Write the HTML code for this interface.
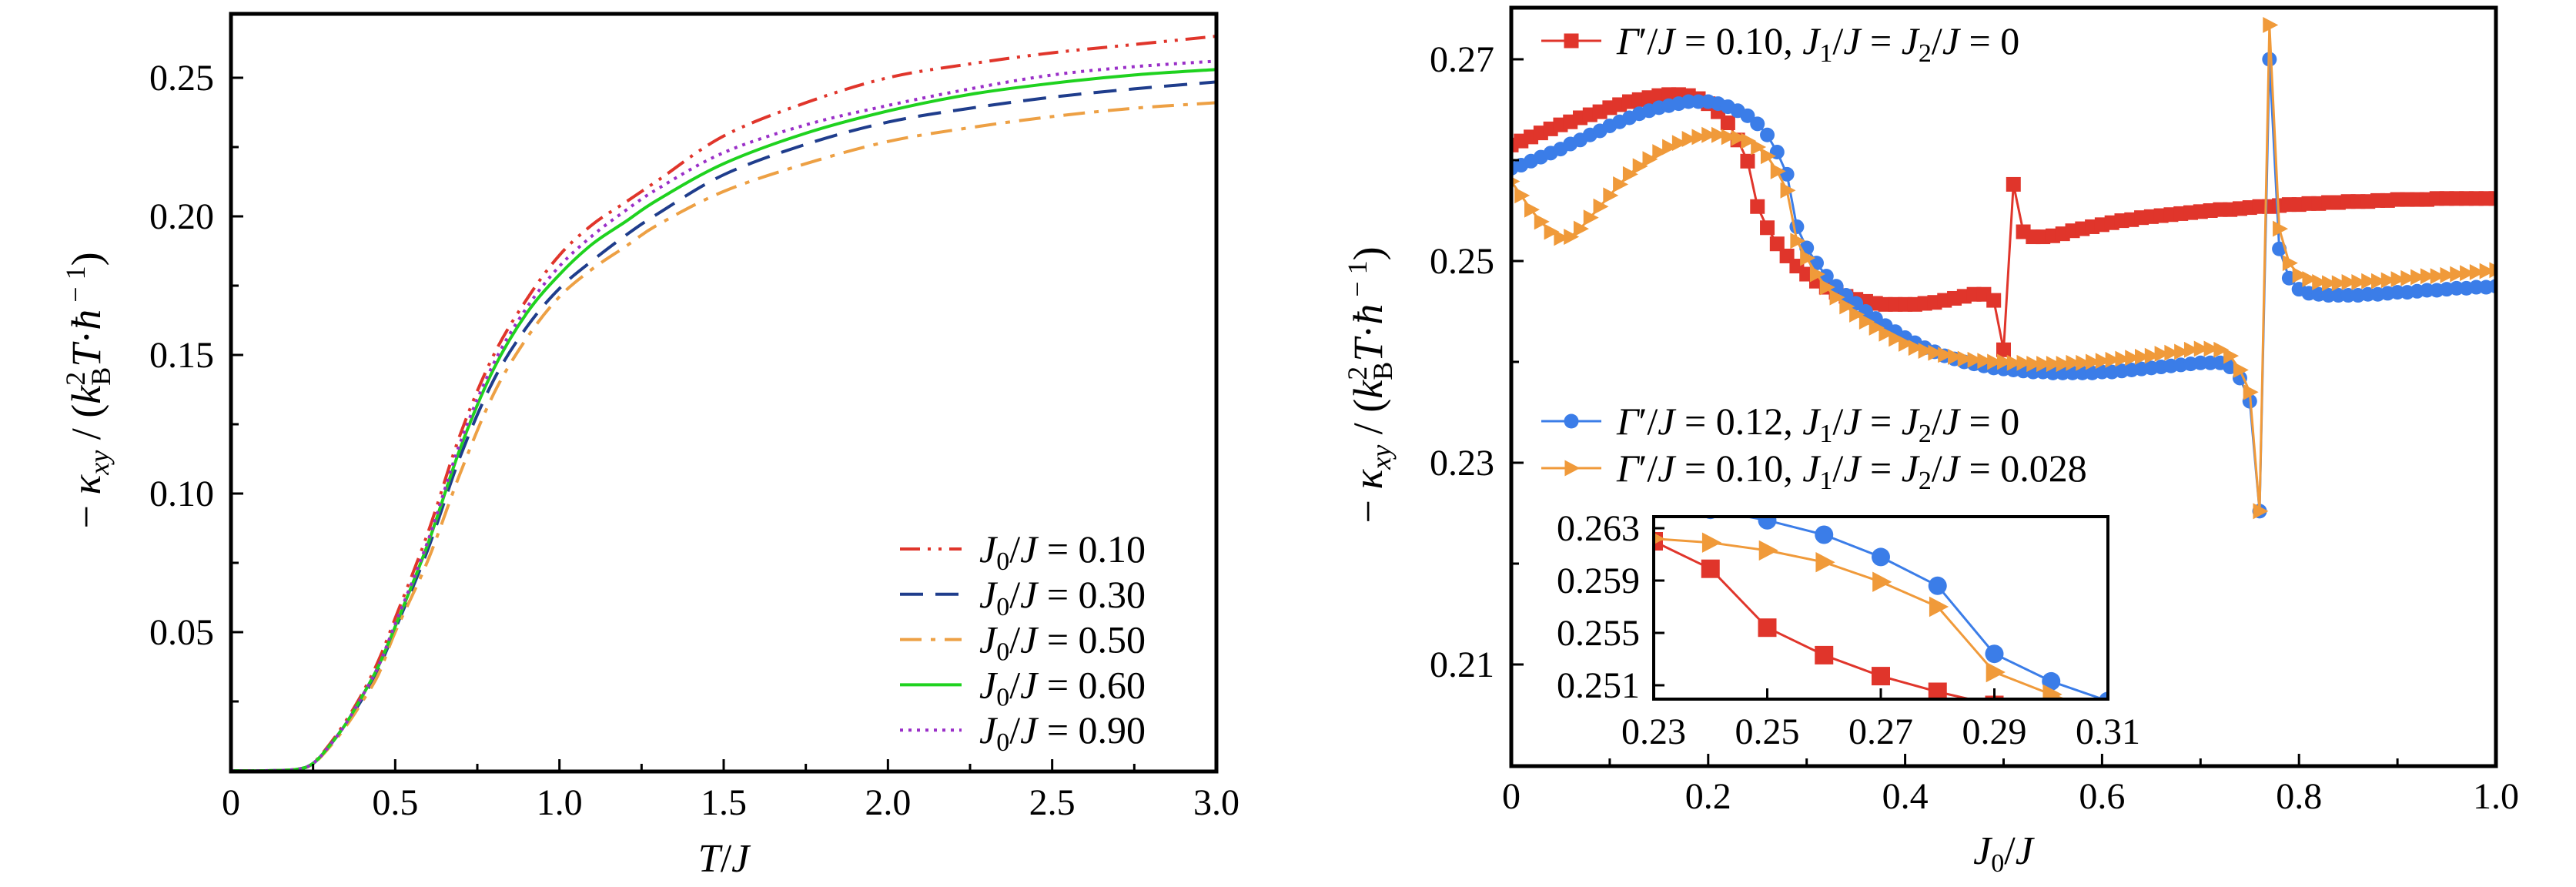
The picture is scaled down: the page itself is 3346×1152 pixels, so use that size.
<!DOCTYPE html>
<html><head><meta charset="utf-8">
<style>
html,body{margin:0;padding:0;background:#fff;overflow:hidden;width:3346px;height:1152px;}
svg{display:block;}
text{font-family:"Liberation Serif","DejaVu Serif",serif;}
</style></head>
<body>
<svg id="fig" width="3346" height="1152" viewBox="0 0 3346 1152" xmlns="http://www.w3.org/2000/svg" font-family="Liberation Serif, DejaVu Serif, serif">
<defs>
<clipPath id="clipL"><rect x="300" y="18" width="1280" height="984"/></clipPath>
<clipPath id="clipR"><rect x="1963" y="10" width="1279" height="985"/></clipPath>
<clipPath id="clipI"><rect x="2148" y="671" width="590" height="237"/></clipPath>
</defs>
<g id="left"></g>
<g id="right"></g>
</svg>
<script>
// ---------- LEFT CHART DATA ----------
const tGrid = [0,0.1,0.2,0.25,0.3,0.35,0.4,0.45,0.5,0.6,0.7,0.8,0.9,1.0,1.1,1.2,1.3,1.5,1.75,2.0,2.25,2.5,2.75,3.0];
const kRed = [0,0,0.0005,0.0028,0.0095,0.018,0.028,0.040,0.055,0.086,0.122,0.150,0.170,0.186,0.197,0.205,0.213,0.229,0.241,0.250,0.255,0.259,0.262,0.265];
const kBlue = [0,0,0.0005,0.0026,0.009,0.017,0.026,0.037,0.051,0.080,0.114,0.141,0.160,0.174,0.184,0.193,0.201,0.215,0.226,0.234,0.239,0.243,0.246,0.2485];
const kOrange = [0,0,0.0005,0.0025,0.0085,0.016,0.025,0.035,0.050,0.076,0.108,0.136,0.156,0.171,0.181,0.189,0.197,0.209,0.219,0.227,0.232,0.236,0.239,0.241];
const kGreen = [0,0,0.0005,0.0027,0.009,0.017,0.027,0.038,0.052,0.082,0.117,0.145,0.165,0.179,0.190,0.198,0.206,0.219,0.230,0.238,0.244,0.248,0.251,0.253];
const kPurple = [0,0,0.0005,0.0027,0.009,0.017,0.027,0.038,0.053,0.083,0.119,0.147,0.167,0.182,0.193,0.202,0.210,0.223,0.233,0.240,0.246,0.251,0.254,0.256];
const leftLabels = ["0.10","0.30","0.50","0.60","0.90"];
const leftXTicks = ["0","0.5","1.0","1.5","2.0","2.5","3.0"];
const leftYTicks = ["0.05","0.10","0.15","0.20","0.25"];

// ---------- RIGHT CHART DATA ----------
const rRed = [0.2615,0.2619,0.2623,0.2627,0.2631,0.2635,0.2638,0.2642,0.2645,0.2648,
0.2652,0.2655,0.2658,0.2660,0.2662,0.2664,0.2665,0.2665,0.2664,0.2661,
0.2656,0.2648,0.2637,0.2620,0.2599,0.2554,0.2533,0.2517,0.2505,0.2495,
0.2487,0.2480,0.2474,0.2469,0.2465,0.2462,0.2460,0.2458,0.2457,0.2457,
0.2457,0.2457,0.2458,0.2459,0.2461,0.2463,0.2465,0.2467,0.2467,0.2461,
0.2412,0.2576,0.2529,0.2524,0.2524,0.2525,0.2527,0.2530,0.2532,0.2534,
0.2536,0.2538,0.2540,0.2541,0.2543,0.2544,0.2545,0.2546,0.2547,0.2548,
0.2549,0.2550,0.2551,0.2551,0.2552,0.2553,0.2554,0.2554,0.2555,0.2556,
0.2556,0.2557,0.2557,0.2558,0.2558,0.2559,0.2559,0.2559,0.2560,0.2560,
0.2561,0.2561,0.2561,0.2561,0.2562,0.2562,0.2562,0.2562,0.2562,0.2562,0.2562];
const rBlue = [0.2592,0.2595,0.2599,0.2603,0.2607,0.2611,0.2616,0.2620,0.2625,0.2629,
0.2634,0.2638,0.2642,0.2646,0.2649,0.2652,0.2654,0.2656,0.2658,0.2658,
0.2658,0.2656,0.2653,0.2649,0.2644,0.2636,0.2625,0.2608,0.2586,0.2534,
0.2513,0.2498,0.2485,0.2475,0.2466,0.2458,0.2450,0.2443,0.2436,0.2430,
0.2424,0.2419,0.2414,0.2410,0.2406,0.2403,0.2400,0.2398,0.2396,0.2394,
0.2393,0.2392,0.2391,0.2390,0.2390,0.2389,0.2389,0.2389,0.2389,0.2389,
0.2390,0.2390,0.2391,0.2392,0.2393,0.2394,0.2395,0.2396,0.2397,0.2398,
0.2399,0.2399,0.2399,0.2395,0.2384,0.2361,0.2252,0.2700,0.2512,0.2483,
0.2472,0.2468,0.2467,0.2466,0.2466,0.2466,0.2466,0.2467,0.2467,0.2468,
0.2469,0.2469,0.2470,0.2471,0.2471,0.2472,0.2473,0.2473,0.2474,0.2474,0.2475];
const rOrange = [0.2579,0.2565,0.2551,0.2539,0.2529,0.2523,0.2524,0.2532,0.2543,0.2554,
0.2565,0.2576,0.2586,0.2594,0.2601,0.2608,0.2613,0.2617,0.2621,0.2623,
0.2625,0.2625,0.2623,0.2622,0.2619,0.2613,0.2604,0.2589,0.2570,0.2520,
0.2503,0.2487,0.2474,0.2464,0.2455,0.2447,0.2440,0.2434,0.2428,0.2423,
0.2418,0.2414,0.2411,0.2409,0.2407,0.2405,0.2403,0.2402,0.2401,0.2400,
0.2400,0.2399,0.2399,0.2398,0.2398,0.2398,0.2398,0.2399,0.2399,0.2400,
0.2401,0.2402,0.2403,0.2404,0.2405,0.2406,0.2408,0.2409,0.2410,0.2412,
0.2413,0.2413,0.2412,0.2406,0.2392,0.2370,0.2252,0.2734,0.2532,0.2498,
0.2486,0.2482,0.2479,0.2478,0.2478,0.2479,0.2479,0.2480,0.2480,0.2481,
0.2482,0.2483,0.2484,0.2485,0.2485,0.2486,0.2487,0.2488,0.2489,0.2490,0.2491];
const rightXTicks = ["0","0.2","0.4","0.6","0.8","1.0"];
const rightYTicks = ["0.21","0.23","0.25","0.27"];
const insetXTicks = ["0.23","0.25","0.27","0.29","0.31"];
const insetYTicks = ["0.251","0.255","0.259","0.263"];

const NS = "http://www.w3.org/2000/svg";
const FF = "Liberation Serif, DejaVu Serif, serif";
function mk(parent, tag, attrs) {
  const e = document.createElementNS(NS, tag);
  for (const k in attrs) e.setAttribute(k, attrs[k]);
  if (tag === "text") e.setAttribute("font-family", FF);
  parent.appendChild(e);
  return e;
}
const C = {red:"#e0352b", blue:"#1f3d8c", orange:"#eda044", green:"#1fd21f", purple:"#9a2fc8",
           rred:"#e0352b", rblue:"#3b7de8", rorange:"#f09a3a"};

// ---------- LEFT CHART ----------
const L = document.getElementById("left");
const lx = t => 300 + t * (1280 / 3);
const ly = v => 1001 - v * 3600;

function smoothPath(xs, ys) {
  const p = xs.map((x, i) => [x, ys[i]]);
  let d = "M" + p[0][0].toFixed(1) + "," + p[0][1].toFixed(1);
  for (let i = 0; i < p.length - 1; i++) {
    const p0 = p[Math.max(0, i - 1)], p1 = p[i], p2 = p[i + 1], p3 = p[Math.min(p.length - 1, i + 2)];
    const c1 = [p1[0] + (p2[0] - p0[0]) / 6, p1[1] + (p2[1] - p0[1]) / 6];
    const c2 = [p2[0] - (p3[0] - p1[0]) / 6, p2[1] - (p3[1] - p1[1]) / 6];
    d += "C" + c1[0].toFixed(1) + "," + c1[1].toFixed(1) + " " + c2[0].toFixed(1) + "," + c2[1].toFixed(1) + " " + p2[0].toFixed(1) + "," + p2[1].toFixed(1);
  }
  return d;
}
const leftSeries = [
  {vals:kRed, col:C.red, dash:"26,10,4,10,4,10"},
  {vals:kBlue, col:C.blue, dash:"30,16"},
  {vals:kOrange, col:C.orange, dash:"28,12,6,12"},
  {vals:kGreen, col:C.green, dash:""},
  {vals:kPurple, col:C.purple, dash:"4,7"}
];
const lg = mk(L, "g", {"clip-path":"url(#clipL)"});
leftSeries.forEach((s, i) => {
  const pth = mk(lg, "path", {d:smoothPath(tGrid.map(lx), s.vals.map(ly)), fill:"none", stroke:s.col, "stroke-width":4, "stroke-dasharray":s.dash});
  
  
});
const lf = mk(L, "rect", {x:300, y:18, width:1280, height:984, fill:"none", stroke:"#000", "stroke-width":5});


for (let i = 0; i <= 12; i++) {
  const t = i * 0.25, x = lx(t), major = i % 2 === 0;
  const tk = mk(L, "line", {x1:x, x2:x, y1:1002, y2:1002 - (major ? 16 : 10), stroke:"#000", "stroke-width":3});
  
  
}
leftXTicks.forEach((lab, i) => {
  const tx = mk(L, "text", {x:lx(i * 0.5), y:1058, "font-size":48, "text-anchor":"middle"});
  tx.textContent = lab;
  
  
});
for (let i = 1; i <= 10; i++) {
  const v = i * 0.025, y = ly(v), major = i % 2 === 0;
  const tk = mk(L, "line", {x1:300, x2:300 + (major ? 16 : 10), y1:y, y2:y, stroke:"#000", "stroke-width":3});
  
  
}
leftYTicks.forEach((lab, i) => {
  const tx = mk(L, "text", {x:278, y:ly((i + 1) * 0.05) + 16, "font-size":48, "text-anchor":"end"});
  tx.textContent = lab;
  
  
});
leftLabels.forEach((lab, i) => {
  const y = 713 + i * 58.8, s = leftSeries[i];
  const ln = mk(L, "line", {x1:1169, x2:1249, y1:y, y2:y, stroke:s.col, "stroke-width":4, "stroke-dasharray":s.dash});
  
  
  const tx = mk(L, "text", {x:1272, y:y + 17, "font-size":50});
  tx.innerHTML = '<tspan font-style="italic">J</tspan><tspan font-size="34" dy="10">0</tspan><tspan dy="-10">/</tspan><tspan font-style="italic">J</tspan> = ' + lab;
  
  
});
const lxt = mk(L, "text", {x:940, y:1132, "font-size":52, "text-anchor":"middle"});
lxt.innerHTML = '<tspan font-style="italic">T</tspan>/<tspan font-style="italic">J</tspan>';


function yTitle(parent, cx, cy, name) {
  const t = mk(parent, "text", {x:0, y:0, "font-size":54, "text-anchor":"middle", transform:"translate(" + cx + "," + cy + ") rotate(-90)"});
  t.innerHTML = '− <tspan font-style="italic">κ</tspan><tspan font-size="36" font-style="italic" dy="11">xy</tspan><tspan dy="-11"> / (</tspan><tspan font-style="italic">k</tspan><tspan font-size="36" dy="-20">2</tspan><tspan font-size="36" dx="-18" dy="33">B</tspan><tspan dy="-13" font-style="italic">T</tspan>·<tspan font-style="italic">ħ</tspan><tspan font-size="36" dy="-20"> − 1</tspan><tspan dy="20">)</tspan>';
  
  
}
yTitle(L, 130, 507, 'y-axis-title');

// ---------- RIGHT CHART ----------
const R = document.getElementById("right");
const rx = v => 1963 + v * 1279;
const ry = v => 863 - (v - 0.21) * 13100;
const jGrid = rRed.map((_, i) => i / 100);
const rightSeries = [
  {vals:rRed, col:C.rred, mark:"square", name:"gamma-0.10-j1-0"},
  {vals:rBlue, col:C.rblue, mark:"circle", name:"gamma-0.12-j1-0"},
  {vals:rOrange, col:C.rorange, mark:"triangle", name:"gamma-0.10-j1-0.028"}
];
function marker(parent, type, x, y, sz, col) {
  let m;
  if (type === "square") m = mk(parent, "rect", {x:x - sz / 2, y:y - sz / 2, width:sz, height:sz, fill:col});
  else if (type === "circle") m = mk(parent, "circle", {cx:x, cy:y, r:sz / 2, fill:col});
  else m = mk(parent, "polygon", {points:(x - sz * 0.45) + "," + (y - sz * 0.55) + " " + (x + sz * 0.6) + "," + y + " " + (x - sz * 0.45) + "," + (y + sz * 0.55), fill:col});
  return m;
}
function drawSeries(parent, xf, yf, xs, s, sz, lw, xmin, xmax) {
  let d = "";
  xs.forEach((x, i) => { d += (d ? "L" : "M") + xf(x).toFixed(1) + "," + yf(s.vals[i]).toFixed(1); });
  const p = mk(parent, "path", {d:d, fill:"none", stroke:s.col, "stroke-width":lw});
  
  
  xs.forEach((x, i) => {
    if (x < xmin - 1e-9 || x > xmax + 1e-9) return;
    const m = marker(parent, s.mark, xf(x), yf(s.vals[i]), sz, s.col);
    
    
  });
}
const rg = mk(R, "g", {"clip-path":"url(#clipR)"});
rightSeries.forEach(s => drawSeries(rg, rx, ry, jGrid, s, 19, 3, 0, 1));
const rf = mk(R, "rect", {x:1963, y:10, width:1279, height:985, fill:"none", stroke:"#000", "stroke-width":5});


for (let i = 0; i <= 10; i++) {
  const x = rx(i / 10), major = i % 2 === 0;
  const tk = mk(R, "line", {x1:x, x2:x, y1:995, y2:995 - (major ? 16 : 10), stroke:"#000", "stroke-width":3});
  
  
}
rightXTicks.forEach((lab, i) => {
  const tx = mk(R, "text", {x:rx(i * 0.2), y:1050, "font-size":48, "text-anchor":"middle"});
  tx.textContent = lab;
  
  
});
for (let i = 0; i <= 7; i++) {
  const v = 0.20 + i * 0.01; if (v < 0.2001) continue;
  const y = ry(v), major = i % 2 === 1;
  const tk = mk(R, "line", {x1:1963, x2:1963 + (major ? 16 : 10), y1:y, y2:y, stroke:"#000", "stroke-width":3});
  
  
}
rightYTicks.forEach((lab, i) => {
  const tx = mk(R, "text", {x:1941, y:ry(0.21 + i * 0.02) + 16, "font-size":48, "text-anchor":"end"});
  tx.textContent = lab;
  
  
});
const rxt = mk(R, "text", {x:2602, y:1122, "font-size":52, "text-anchor":"middle"});
rxt.innerHTML = '<tspan font-style="italic">J</tspan><tspan font-size="34" dy="10">0</tspan><tspan dy="-10">/</tspan><tspan font-style="italic">J</tspan>';


yTitle(R, 1795, 500, 'y-axis-title');
const rLegY = [53, 547, 608];
const rLegTxt = [
  ['0.10', '0'], ['0.12', '0'], ['0.10', '0.028']
];
rightSeries.forEach((s, i) => {
  const y = rLegY[i];
  const ln = mk(R, "line", {x1:2002, x2:2080, y1:y, y2:y, stroke:s.col, "stroke-width":3});
  
  
  const m = marker(R, s.mark, 2041, y, 19, s.col);
  
  
  const tx = mk(R, "text", {x:2100, y:y + 17, "font-size":50});
  tx.innerHTML = '<tspan font-style="italic">Γ</tspan>′/<tspan font-style="italic">J</tspan> = ' + rLegTxt[i][0] + ',  <tspan font-style="italic">J</tspan><tspan font-size="34" dy="10">1</tspan><tspan dy="-10">/</tspan><tspan font-style="italic">J</tspan> = <tspan font-style="italic">J</tspan><tspan font-size="34" dy="10">2</tspan><tspan dy="-10">/</tspan><tspan font-style="italic">J</tspan> = ' + rLegTxt[i][1];
  
  
});
const I = mk(R, "g", {});


const ix = v => 2148 + (v - 0.23) * 7375;
const iy = v => 890 - (v - 0.251) * 17000;
const ibg = mk(I, "rect", {x:2148, y:671, width:590, height:237, fill:"#fff"});


const ig = mk(I, "g", {"clip-path":"url(#clipI)"});
rightSeries.forEach(s => drawSeries(ig, ix, iy, jGrid, s, 24, 3, 0.22, 0.32));
const ifr = mk(I, "rect", {x:2148, y:671, width:590, height:237, fill:"none", stroke:"#000", "stroke-width":4});


insetXTicks.forEach((lab, i) => {
  const v = 0.23 + i * 0.02, x = ix(v);
  const tk = mk(I, "line", {x1:x, x2:x, y1:908, y2:894, stroke:"#000", "stroke-width":3});
  
  
  const tx = mk(I, "text", {x:x, y:966, "font-size":48, "text-anchor":"middle"});
  tx.textContent = lab;
  
  
});
insetYTicks.forEach((lab, i) => {
  const v = 0.251 + i * 0.004, y = iy(v);
  const tk = mk(I, "line", {x1:2148, x2:2162, y1:y, y2:y, stroke:"#000", "stroke-width":3});
  
  
  const tx = mk(I, "text", {x:2130, y:y + 16, "font-size":48, "text-anchor":"end"});
  tx.textContent = lab;
  
  
});
</script>
</body></html>
